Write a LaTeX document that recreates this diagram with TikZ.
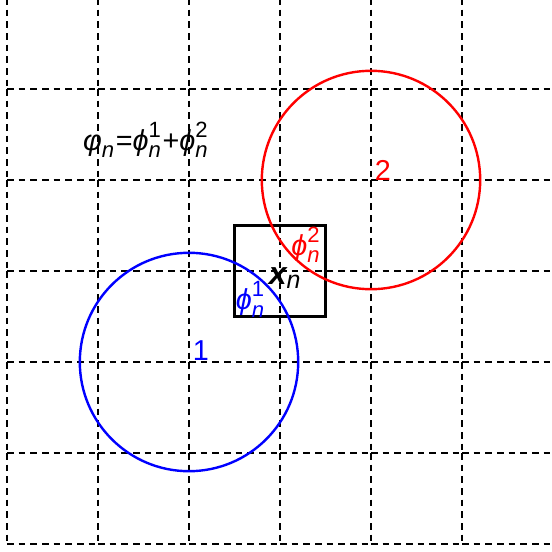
\documentclass[tikz,border=0pt]{standalone}
\usepackage{amsmath}
\usepackage{fontspec}
\setmainfont{Liberation Sans}
\newcommand\scr[1]{\text{\fontsize{6.9}{7}\selectfont #1}}
\newcommand\gsym[3]{\ensuremath{\text{\itshape #1}_{\scr{\itshape #2}}^{\scr{#3}}}}
\begin{document}
\begin{tikzpicture}[x=1cm,y=1cm,
  gridline/.style={draw=black,line width=0.75pt,dash pattern=on 2.1pt off 1.55pt},
  ring/.style={circle,draw,line width=0.75pt,minimum size=2.4cm,inner sep=0pt},
  box/.style={rectangle,draw=black,line width=0.75pt,minimum size=1cm,inner sep=0pt},
  lbl/.style={inner sep=0pt,font=\fontsize{9}{10}\selectfont}]
\useasboundingbox (-0.077,-0.077) rectangle (5.989,5.978);
\foreach \i in {0,...,6} {
  \foreach \j in {0,...,5} {
    \draw[gridline] (\i,\j+1) -- (\i,\j);
    \draw[gridline] (\j,\i) -- (\j+1,\i);
  }
}
\node[box] (sq) at (3,3) {};
\node[ring,draw=blue] (c1) at (2,2) {};
\node[ring,draw=red] (c2) at (4,4) {};
\node[lbl,text=blue] (l1) at (2.13,2.12) {1};
\node[lbl,text=red] (l2) at (4.13,4.11) {2};
\node[lbl] (xn) at (3.06,2.92) {\ensuremath{\text{\fontsize{10}{11}\selectfont\bfseries\itshape x}_{\text{\fontsize{7.8}{9}\selectfont\itshape n}}}};
\node[lbl,text=blue] (p1) at (2.68,2.69) {\gsym{ϕ}{n}{1}};
\node[lbl,text=red] (p2) at (3.29,3.29) {\gsym{ϕ}{n}{2}};
\node[lbl] (eq) at (1.53,4.44) {\ensuremath{\text{\itshape φ}_{\scr{\itshape n}}\text{=}\text{\itshape ϕ}_{\scr{\itshape n}}^{\scr{1}}\text{+}\text{\itshape ϕ}_{\scr{\itshape n}}^{\scr{2}}}};
\end{tikzpicture}
\end{document}
